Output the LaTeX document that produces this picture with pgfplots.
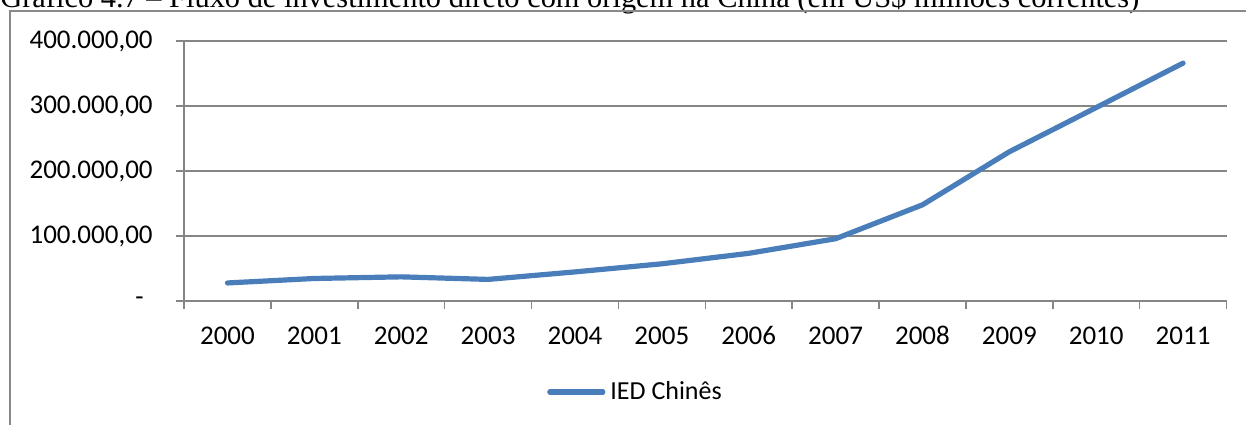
\documentclass[border=0pt]{standalone}
\usepackage{pgfplots}
\pgfplotsset{compat=1.18}
\usepackage{fontspec}
\setmainfont{Carlito}
\newfontfamily\titlefont{Liberation Serif}
\definecolor{axgray}{HTML}{868686}
\definecolor{frgray}{HTML}{898989}
\definecolor{ied}{HTML}{4A7EBB}
\begin{document}
\begin{tikzpicture}
\useasboundingbox (0,0) rectangle (623pt,-212pt);
\clip (0,0) rectangle (623pt,-212pt);
\node[anchor=base west, inner sep=0pt, font=\titlefont\fontsize{15.2}{18}\selectfont] at (0pt,-3.5pt) {Gráfico 4.7 – Fluxo de investimento direto com origem na China (em US\$ milhões correntes)};
\draw[frgray, line width=0.75pt] (5pt,-300pt) -- (5pt,-5.5pt) -- (700pt,-5.5pt);
\begin{axis}[
  scale only axis,
  width=521.25pt, height=130pt,
  at={(92pt,-150.5pt)}, anchor=south west,
  xmin=-0.5, xmax=11.5, ymin=0, ymax=400000,
  axis x line*=bottom, axis y line*=left,
  axis line style={axgray, line width=0.75pt, -},
  tick align=outside,
  major tick length=4pt,
  tick style={axgray, line width=0.75pt},
  xtick={-0.5,0.5,1.5,2.5,3.5,4.5,5.5,6.5,7.5,8.5,9.5,10.5,11.5},
  xticklabels={},
  extra x ticks={0,1,2,3,4,5,6,7,8,9,10,11},
  extra x tick labels={2000,2001,2002,2003,2004,2005,2006,2007,2008,2009,2010,2011},
  extra x tick style={major tick length=0pt, grid=none},
  ytick={0,100000,200000,300000,400000},
  yticklabels={{-\hspace*{4.5pt}\mbox{}},{100.000,00},{200.000,00},{300.000,00},{400.000,00}},
  scaled y ticks=false,
  ymajorgrids,
  grid style={axgray, line width=0.75pt},
  tick label style={font=\fontsize{13.5pt}{16pt}\selectfont, text=black},
  yticklabel style={anchor=east, inner sep=0pt, xshift=-11.5pt},
  xticklabel style={anchor=base, inner sep=0pt, yshift=-21.5pt},
  legend style={at={(axis description cs:0.348,-0.35)}, anchor=west, draw=none, fill=none, inner sep=0pt,
    font=\fontsize{13pt}{15pt}\selectfont, nodes={inner sep=0pt}, /tikz/column sep=2.5pt},
  legend image code/.code={\draw[#1] (0pt,0pt) -- (26.5pt,0pt);},
  clip=false,
]
\addplot[ied, line width=2.6pt, line cap=round, line join=round] coordinates {
(0,27768) (1,34654) (2,37172) (3,33222) (4,44777) (5,57206)
(6,73330) (7,95799) (8,147949) (9,229600) (10,297600) (11,365981)
};
\legend{IED Chinês}
\end{axis}
\end{tikzpicture}
\end{document}
